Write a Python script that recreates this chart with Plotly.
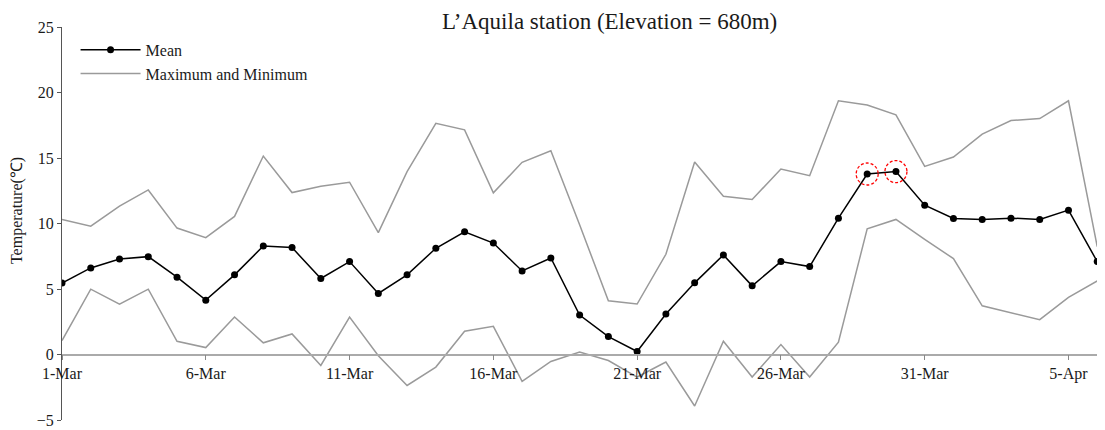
import plotly.graph_objects as go

dates = ["1-Mar", "2-Mar", "3-Mar", "4-Mar", "5-Mar", "6-Mar", "7-Mar", "8-Mar", "9-Mar", "10-Mar",
         "11-Mar", "12-Mar", "13-Mar", "14-Mar", "15-Mar", "16-Mar", "17-Mar", "18-Mar", "19-Mar", "20-Mar",
         "21-Mar", "22-Mar", "23-Mar", "24-Mar", "25-Mar", "26-Mar", "27-Mar", "28-Mar", "29-Mar", "30-Mar",
         "31-Mar", "1-Apr", "2-Apr", "3-Apr", "4-Apr", "5-Apr", "6-Apr"]

mean_t = [5.45, 6.61, 7.29, 7.47, 5.90, 4.15, 6.08, 8.28, 8.16, 5.80,
          7.09, 4.66, 6.08, 8.11, 9.37, 8.51, 6.38, 7.37, 3.01, 1.37,
          0.23, 3.09, 5.47, 7.60, 5.24, 7.09, 6.71, 10.41, 13.78, 13.96,
          11.40, 10.39, 10.31, 10.41, 10.31, 11.02, 7.09]

max_t = [10.31, 9.80, 11.32, 12.56, 9.65, 8.92, 10.54, 15.15, 12.36, 12.84,
         13.15, 9.30, 13.96, 17.65, 17.15, 12.34, 14.67, 15.55, 9.90, 4.10,
         3.85, 7.65, 14.69, 12.08, 11.83, 14.16, 13.65, 19.37, 19.05, 18.29,
         14.36, 15.07, 16.82, 17.86, 18.01, 19.37, 8.23]

min_t = [1.06, 4.99, 3.85, 4.99, 1.01, 0.53, 2.86, 0.89, 1.57, -0.84,
         2.86, -0.10, -2.36, -0.96, 1.77, 2.15, -2.05, -0.53, 0.18, -0.46,
         -1.72, -0.58, -3.93, 1.01, -1.72, 0.76, -1.72, 0.94, 9.60, 10.31,
         8.79, 7.32, 3.72, 3.17, 2.66, 4.36, 5.62]

tick_labels = ["1-Mar", "6-Mar", "11-Mar", "16-Mar", "21-Mar", "26-Mar", "31-Mar", "5-Apr"]
y_ticks = [-5, 0, 5, 10, 15, 20, 25]
highlight_idx = [28, 29]

FONT = "Liberation Serif"
GRAY = "#9a9a9a"
TXT = "#1a1a1a"

fig = go.Figure()
fig.add_trace(go.Scatter(x=dates, y=mean_t, mode="lines+markers", name="Mean",
                         line=dict(color="black", width=1.5),
                         marker=dict(color="black", size=7)))
fig.add_trace(go.Scatter(x=dates, y=max_t, mode="lines", name="Maximum and Minimum",
                         line=dict(color=GRAY, width=1.5), legendgroup="mm"))
fig.add_trace(go.Scatter(x=dates, y=min_t, mode="lines", name="Minimum",
                         line=dict(color=GRAY, width=1.5), legendgroup="mm", showlegend=False))

for i in highlight_idx:
    fig.add_shape(type="circle", xref="x", yref="y",
                  xsizemode="pixel", ysizemode="pixel",
                  xanchor=i, yanchor=mean_t[i],
                  x0=-11, x1=11, y0=-11, y1=11,
                  line=dict(color="red", width=1.3, dash="3px,2px"))

# page body has an 8px margin: figure is shifted by 8px right and down
fig.update_layout(
    width=1097, height=422,
    margin=dict(l=54, r=0, t=19, b=10),
    plot_bgcolor="white", paper_bgcolor="white",
    font=dict(family=FONT, size=16, color=TXT),
    title=dict(text="L’Aquila station (Elevation = 680m)", x=0.525, xref="paper",
               xanchor="center", y=0.97, yref="container", yanchor="middle",
               font=dict(family=FONT, size=23, color=TXT)),
    showlegend=True,
    legend=dict(x=0.013, y=0.985, xanchor="left", yanchor="top",
                bgcolor="rgba(0,0,0,0)", font=dict(family=FONT, size=16, color=TXT),
                itemwidth=60, tracegroupgap=0),
    xaxis=dict(type="category", range=[0, 36.27], tickmode="array", tickvals=tick_labels,
               ticktext=tick_labels, showgrid=False, zeroline=False,
               showline=True, linecolor="#aaaaaa", linewidth=1.5,
               ticks="outside", ticklen=5, tickcolor="#888888",
               anchor="free", position=5 / 30,
               tickfont=dict(family=FONT, size=16, color=TXT)),
    yaxis=dict(range=[-5, 25], tickmode="array", tickvals=y_ticks, showgrid=False, zeroline=False,
               showline=True, linecolor="#555555", linewidth=1.2,
               ticks="outside", ticklen=4, tickcolor="#555555",
               tickfont=dict(family=FONT, size=16, color=TXT)),
    annotations=[dict(text="Temperature(℃)", textangle=-90, xref="paper", yref="paper",
                      x=-0.043, y=0.532, xanchor="center", yanchor="middle", showarrow=False,
                      font=dict(family=FONT, size=16, color=TXT))],
)

fig.write_html("out.html")
